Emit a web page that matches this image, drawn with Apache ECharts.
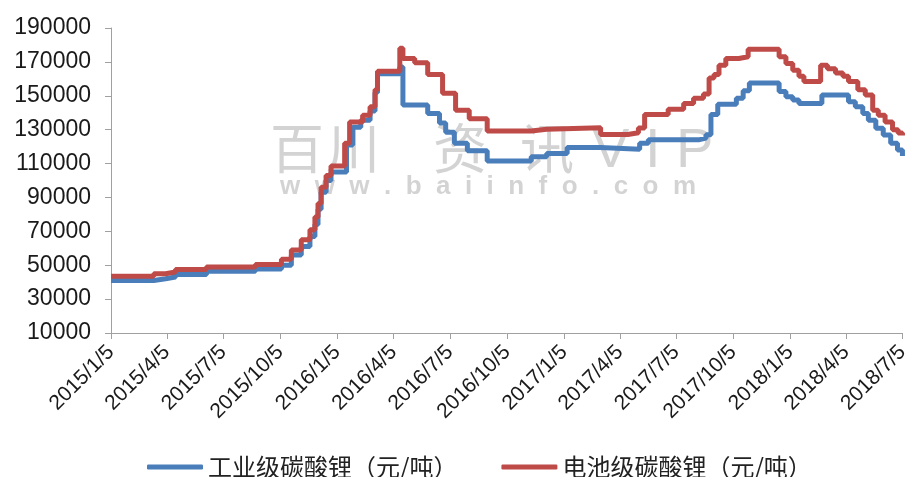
<!DOCTYPE html>
<html><head><meta charset="utf-8">
<script src="https://cdn.jsdelivr.net/npm/echarts@6/dist/echarts.min.js"></script>
<style>html,body{margin:0;padding:0;background:#fff}#c{width:912px;height:477px}</style>
</head><body><div id="c"></div>
<script>
const seriesNames = ['工业级碳酸锂（元/吨）', '电池级碳酸锂（元/吨）'];
const tickLabels = ['2015/1/5','2015/4/5','2015/7/5','2015/10/5','2016/1/5','2016/4/5','2016/7/5','2016/10/5','2017/1/5','2017/4/5','2017/7/5','2017/10/5','2018/1/5','2018/4/5','2018/7/5'];
const firstDay = '2015/1/5';
const lastDay = '2018/7/5';

const industrialDates = ['2015/1/5','2015/3/15','2015/4/3','2015/4/19','2015/6/8','2015/8/26','2015/10/7','2015/10/23','2015/11/8','2015/11/22','2015/11/30','2015/12/5','2015/12/10','2015/12/18','2015/12/26','2016/1/20','2016/1/30','2016/2/12','2016/2/27','2016/3/6','2016/3/10','2016/4/15','2016/4/20','2016/5/30','2016/6/18','2016/6/28','2016/7/12','2016/8/2','2016/9/3','2016/11/13','2016/12/8','2017/1/10','2017/3/5','2017/5/7','2017/5/21','2017/8/10','2017/8/22','2017/8/30','2017/9/10','2017/10/10','2017/10/21','2017/10/31','2017/12/18','2017/12/29','2018/1/9','2018/1/19','2018/2/25','2018/4/9','2018/4/20','2018/5/2','2018/5/11','2018/5/23','2018/6/4','2018/6/16','2018/6/27','2018/7/5'];
const industrialValues = [41000,42000,43000,44500,46500,47800,50000,56000,61000,67000,74000,83000,93000,100000,105000,121000,131500,135500,141000,152000,163000,167000,144500,139500,134000,128500,122000,117500,111500,114000,116000,119500,118500,122000,124000,125000,127000,139000,145000,148500,153000,157500,152500,149500,147500,145500,150500,146500,143500,139500,135500,130800,126800,122000,118000,114500];

const batteryDates = ['2015/1/5','2015/3/15','2015/4/3','2015/4/19','2015/6/8','2015/8/26','2015/10/7','2015/10/23','2015/11/8','2015/11/22','2015/11/30','2015/12/5','2015/12/10','2015/12/18','2015/12/26','2016/1/17','2016/1/25','2016/2/15','2016/2/27','2016/3/6','2016/3/10','2016/4/15','2016/4/20','2016/5/9','2016/5/30','2016/6/23','2016/7/14','2016/8/5','2016/9/3','2016/11/13','2016/12/8','2017/3/5','2017/4/18','2017/5/5','2017/5/15','2017/6/22','2017/7/17','2017/8/2','2017/8/18','2017/8/27','2017/9/4','2017/9/12','2017/9/23','2017/10/14','2017/10/29','2017/12/18','2017/12/29','2018/1/9','2018/1/19','2018/1/27','2018/2/23','2018/3/6','2018/3/19','2018/3/31','2018/4/9','2018/4/24','2018/5/6','2018/5/18','2018/5/27','2018/6/7','2018/6/19','2018/6/28','2018/7/5'];
const batteryValues = [43500,45000,46000,47500,49000,50500,53500,59000,65000,71000,78500,86500,96000,103000,108500,122000,134500,138500,143500,153500,164500,178000,172000,169500,162500,151500,141500,136500,129200,130200,131200,127200,128200,131000,139000,142000,145500,148500,151000,160500,162500,168000,172000,173000,177500,173000,169000,165000,161500,158500,168000,166000,163500,161500,158500,153500,150500,141500,138500,134500,130000,128000,126500];

// daily category axis
const categories = [];
(function () {
  const p0 = firstDay.split('/').map(Number), p1 = lastDay.split('/').map(Number);
  let t = Date.UTC(p0[0], p0[1] - 1, p0[2]);
  const tEnd = Date.UTC(p1[0], p1[1] - 1, p1[2]);
  while (t <= tEnd) {
    const d = new Date(t);
    categories.push(d.getUTCFullYear() + '/' + (d.getUTCMonth() + 1) + '/' + d.getUTCDate());
    t += 86400000;
  }
})();
const catIndex = {};
categories.forEach((c, i) => { catIndex[c] = i; });
const toPairs = (dates, vals) => dates.map((d, i) => [catIndex[d], vals[i]]);

const chart = echarts.init(document.getElementById('c'));
const isTick = (idx, val) => tickLabels.indexOf(val) >= 0;
const wmColor = 'rgba(175,175,175,0.55)';
const wmCJK = (ch, left) => ({ type: 'text', left: left, top: 121, z: 0, silent: true,
  style: { text: ch, fontSize: 54, fontFamily: 'Noto Sans CJK SC', fill: wmColor } });
chart.setOption({
  animation: false,
  backgroundColor: '#fff',
  grid: { left: 111, right: 5, top: 28, bottom: 144, containLabel: false },
  graphic: [
    wmCJK('百', 270), wmCJK('川', 326), wmCJK('资', 433), wmCJK('讯', 520),
    { type: 'text', left: 592, top: 124, z: 0, silent: true, style: { text: 'V I P', fontSize: 56, fontFamily: 'Liberation Sans', fill: wmColor } },
    { type: 'text', left: 280, top: 174, z: 0, silent: true, style: { text: 'w  w  w  .  b  a  i  i  n  f  o  .  c  o  m', fontSize: 26, fontWeight: 'bold', fontFamily: 'Liberation Sans', fill: wmColor } }
  ],
  legend: {
    left: 142, top: 450,
    itemWidth: 56, itemHeight: 5, itemGap: 44,
    icon: 'roundRect',
    textStyle: { fontSize: 24, color: '#222', fontFamily: 'Noto Sans CJK SC' },
    data: seriesNames
  },
  xAxis: {
    type: 'category',
    data: categories,
    boundaryGap: false,
    axisLine: { lineStyle: { color: '#a0a0a0', width: 1 } },
    axisTick: { show: true, interval: isTick, length: 6, lineStyle: { color: '#a0a0a0' } },
    axisLabel: { interval: isTick, rotate: 45, margin: 16, fontSize: 21, color: '#1a1a1a', fontFamily: 'Liberation Sans' },
    splitLine: { show: false }
  },
  yAxis: {
    type: 'value',
    min: 10000, max: 190000, interval: 20000,
    axisLine: { show: true, lineStyle: { color: '#a0a0a0', width: 1 } },
    axisTick: { show: true, length: 6, lineStyle: { color: '#a0a0a0' } },
    axisLabel: { fontSize: 23, color: '#1a1a1a', margin: 20, fontFamily: 'Liberation Sans', formatter: (v) => String(v) },
    splitLine: { show: false }
  },
  series: [
    { name: seriesNames[0], type: 'line', step: 'end', showSymbol: false, symbol: 'none', z: 3,
      lineStyle: { width: 5, color: '#4A7EBB' }, itemStyle: { color: '#4A7EBB' },
      data: toPairs(industrialDates, industrialValues) },
    { name: seriesNames[1], type: 'line', step: 'end', showSymbol: false, symbol: 'none', z: 4,
      lineStyle: { width: 5, color: '#BE4B48' }, itemStyle: { color: '#BE4B48' },
      data: toPairs(batteryDates, batteryValues) }
  ]
});
</script>
</body></html>
